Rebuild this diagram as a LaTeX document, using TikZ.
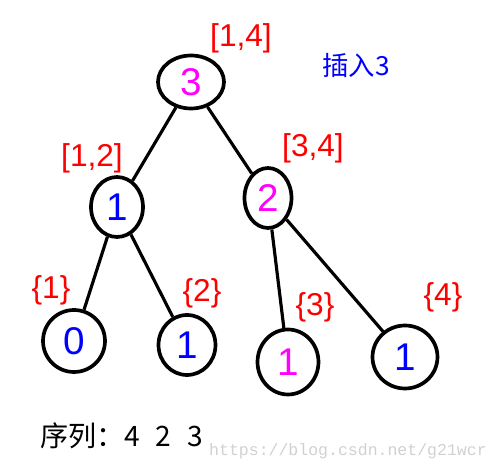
\documentclass[tikz,border=0pt]{standalone}
\usepackage{fontspec}
\setmainfont{Liberation Sans}
\setmonofont{Liberation Mono}
\newfontfamily\cjk{Noto Sans CJK SC}
\usetikzlibrary{shapes.geometric}

\definecolor{pmag}{RGB}{255,0,255}
\definecolor{pblue}{RGB}{0,0,255}
\definecolor{pred}{RGB}{255,0,0}

\tikzset{
    treenode/.style={draw, ellipse, line width=2.1pt, inner sep=0pt,
        font=\fontsize{22}{24}\selectfont},
    intlabel/.style={text=pred, font=\fontsize{18}{20}\selectfont},
    edge/.style={line width=1.8pt}
}

\begin{document}
\begin{tikzpicture}[x=0.02cm, y=-0.02cm]
    \useasboundingbox[fill=white] (0,0) rectangle (495,473);

    \node[treenode, minimum width=1.32cm, minimum height=1.06cm, text=pmag] (root) at (191,82) {3};
    \node[treenode, minimum width=1.04cm, minimum height=1.2cm, text=pblue] (left) at (117,207) {1};
    \node[treenode, minimum width=0.94cm, minimum height=1.2cm, text=pmag] (right) at (268,198) {2};

    \node[treenode, minimum width=1.24cm, minimum height=1.24cm, text=pblue] (leafa) at (74,341) {0};
    \node[treenode, minimum width=1.14cm, minimum height=1.2cm, text=pblue] (leafb) at (187,345) {1};
    \node[treenode, minimum width=1.22cm, minimum height=1.3cm, text=pmag] (leafc) at (288,362) {1};
    \node[treenode, minimum width=1.3cm, minimum height=1.26cm, text=pblue] (leafd) at (405,357) {1};

    \draw[edge] (root) -- (left);
    \draw[edge] (root) -- (right);
    \draw[edge] (left) -- (leafa);
    \draw[edge] (left) -- (leafb);
    \draw[edge] (right) -- (leafc);
    \draw[edge] (right) -- (leafd);

    \node[intlabel] (lroot) at (241,38) {[1,4]};
    \node[intlabel] (lleft) at (92,158) {[1,2]};
    \node[intlabel] (lright) at (313,148) {[3,4]};
    \node[intlabel] (la) at (51,290) {\{1\}};
    \node[intlabel] (lb) at (202,293) {\{2\}};
    \node[intlabel] (lc) at (315,307) {\{3\}};
    \node[intlabel] (ld) at (443,297) {\{4\}};

    \node[text=pblue, font=\cjk\fontsize{15}{17}\selectfont] (title) at (356,65) {插入3};
    \node[anchor=west, font=\cjk\fontsize{16}{18}\selectfont] (seq) at (34,436) {序列：4\hspace{9pt}2\hspace{9pt}3};
    \node[anchor=west, text=black!18, font=\ttfamily\fontsize{9.4}{11}\selectfont] (mark) at (203,451) {https://blog.csdn.net/g21wcr};
\end{tikzpicture}
\end{document}
